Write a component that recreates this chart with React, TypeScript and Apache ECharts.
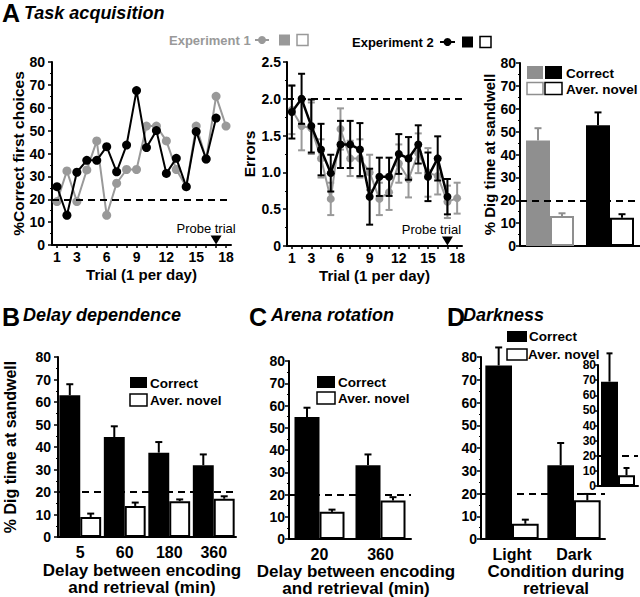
import React, { useEffect, useRef } from "react";
import * as echarts from "echarts";

// ---------- data ----------
const trials = ["1","2","3","4","5","6","7","8","9","10","11","12","13","14","15","16","17","18"];
const labelTrials = ["1","3","6","9","12","15","18"];
const probeTrial = "17";

// Panel A1: % correct first choices
const a1Exp1 = [19, 32.4, 19, 32.8, 45.5, 13, 27, 33, 33, 52, 52, 45.5, 33, 25.5, 52, 37.6, 65, 52];
const a1Exp2 = [25.5, 13, 31.8, 37, 37, 43, 32, 43.7, 67.5, 42.6, 50, 31.3, 37.9, 25.5, 49.6, 37.6, 55.5];

// Panel A2: errors
const a2Exp1 = [1.85, 1.63, 1.6, 1.19, 0.64, 1.59, 1.19, 1.19, 1.0, 0.64, 0.73, 1.12, 0.91, 1.26, 1.0, 0.95, 0.6, 0.65];
const a2Exp1Err = [0.33, 0.33, 0.35, 0.26, 0.22, 0.28, 0.24, 0.26, 0.24, 0.22, 0.24, 0.26, 0.25, 0.27, 0.33, 0.25, 0.22, 0.21];
const a2Exp2 = [1.82, 2.0, 1.63, 1.31, 0.99, 1.38, 1.38, 1.31, 0.67, 0.94, 0.94, 1.25, 1.19, 1.38, 0.94, 1.19, 0.67];
const a2Exp2Err = [0.36, 0.34, 0.36, 0.35, 0.25, 0.32, 0.32, 0.36, 0.38, 0.26, 0.26, 0.27, 0.29, 0.26, 0.33, 0.3, 0.24];

// Panel A3: dig time
const a3Groups = ["Experiment 1", "Experiment 2"];
const a3Correct = [46.1, 52.8];
const a3CorrectErr = [5.4, 5.6];
const a3Novel = [13.1, 12.4];
const a3NovelErr = [1.2, 1.5];

// Panel B: delay dependence
const bDelays = ["5", "60", "180", "360"];
const bCorrect = [63, 44.4, 37.5, 31.9];
const bCorrectErr = [4.9, 4.8, 4.7, 4.8];
const bNovel = [8.9, 13.8, 15.9, 17.0];
const bNovelErr = [1.5, 1.5, 0.8, 1.1];

// Panel C: arena rotation
const cDelays = ["20", "360"];
const cCorrect = [54.8, 33.2];
const cCorrectErr = [4.2, 4.8];
const cNovel = [12.2, 17.3];
const cNovelErr = [1.0, 1.5];

// Panel D: darkness
const dConditions = ["Light", "Dark"];
const dCorrect = [76.3, 32.4];
const dCorrectErr = [7.9, 9.8];
const dNovel = [6.7, 17.0];
const dNovelErr = [1.8, 2.8];

// Panel D inset
const insetGroups = ["Inset"];
const insetCorrect = [69];
const insetCorrectErr = [18.7];
const insetNovel = [7.1];
const insetNovelErr = [4.8];

const chancePct = 20;
const chanceErrors = 2.0;

// ---------- style ----------
const FONT = '"Liberation Sans", Arial, Helvetica, sans-serif';
const GRAY = "#999999";
const BAR_GRAY = "#8f8f8f";
const BLACK = "#000000";

function yAxisCfg(gridIndex: number, max: number, interval: number, o: any = {}) {
  return {
    type: "value",
    gridIndex,
    min: 0,
    max,
    interval,
    axisLine: { show: true, lineStyle: { color: BLACK, width: 2 } },
    axisTick: { show: true, length: o.tickLen ?? 4, lineStyle: { color: BLACK, width: 1.5 } },
    minorTick: { show: o.minor !== false, splitNumber: 2, length: 2, lineStyle: { color: BLACK, width: 1 } },
    splitLine: { show: false },
    axisLabel: {
      show: o.labels !== false,
      hideOverlap: false,
      color: BLACK,
      fontFamily: FONT,
      fontWeight: "bold",
      fontSize: o.fontSize ?? 14,
      margin: o.margin ?? 6,
      formatter: o.formatter,
    },
    name: o.name ?? "",
    nameLocation: "middle",
    nameRotate: 90,
    nameGap: o.nameGap ?? 30,
    nameMoveOverlap: false,
    nameTextStyle: { color: BLACK, fontFamily: FONT, fontWeight: "bold", fontSize: o.nameSize ?? 15.5 },
  };
}

function xCatCfg(gridIndex: number, data: string[], o: any = {}) {
  return {
    type: "category",
    gridIndex,
    data,
    boundaryGap: true,
    axisLine: { show: true, lineStyle: { color: BLACK, width: 2 } },
    axisTick: o.ticks
      ? { show: true, interval: 0, alignWithLabel: true, length: 3, lineStyle: { color: BLACK, width: 1.5 } }
      : { show: false },
    axisLabel: {
      show: o.labels !== false,
      color: BLACK,
      fontFamily: FONT,
      fontWeight: "bold",
      fontSize: o.fontSize ?? 14,
      margin: o.margin ?? 5,
      interval: o.labelInterval ?? 0,
    },
    name: o.name ?? "",
    nameLocation: "middle",
    nameGap: o.nameGap ?? 20,
    nameMoveOverlap: false,
    nameTextStyle: {
      color: BLACK,
      fontFamily: FONT,
      fontWeight: "bold",
      fontSize: o.nameSize ?? 15,
      lineHeight: o.nameLineHeight ?? 17,
      padding: o.namePadding ?? 0,
      verticalAlign: "top",
    },
  };
}

function errSeries(axis: number, vals: number[], errs: number[], o: any) {
  const slot = o.slot ?? 0;
  const nSlots = o.nSlots ?? 1;
  const gap = o.gap ?? 0;
  const colors = o.colors;
  const twoSided = !!o.twoSided;
  const cap = o.cap ?? 3.5;
  const lw = o.lw ?? 2;
  return {
    type: "custom",
    xAxisIndex: axis,
    yAxisIndex: axis,
    z: o.z ?? 5,
    silent: true,
    clip: false,
    data: vals.map((v, i) => [i, v, errs[i]]),
    encode: { x: 0, y: 1 },
    renderItem: (params: any, api: any) => {
      const i = api.value(0);
      const v = api.value(1);
      const e = api.value(2);
      const c = api.coord([i, v]);
      const t = api.coord([i, v + e]);
      const b = twoSided ? api.coord([i, v - e]) : c;
      const band = api.size([1, 0])[0];
      const bw = (band * (1 - gap)) / nSlots;
      const x = c[0] + (slot - (nSlots - 1) / 2) * bw;
      const color = Array.isArray(colors) ? colors[params.dataIndex] : colors;
      const style = { stroke: color, lineWidth: lw, fill: null };
      const children: any[] = [
        { type: "line", shape: { x1: x, y1: t[1], x2: x, y2: b[1] }, style },
        { type: "line", shape: { x1: x - cap, y1: t[1], x2: x + cap, y2: t[1] }, style },
      ];
      if (twoSided) children.push({ type: "line", shape: { x1: x - cap, y1: b[1], x2: x + cap, y2: b[1] }, style });
      return { type: "group", children };
    },
  };
}

function chanceLine(value: number) {
  return {
    silent: true,
    symbol: "none",
    label: { show: false },
    lineStyle: { color: BLACK, type: [7, 5], width: 2 },
    data: [{ yAxis: value }],
  };
}

function probeMark(offsetX: number) {
  return {
    silent: true,
    symbol: "triangle",
    symbolRotate: 180,
    symbolSize: [11, 9],
    symbolOffset: [0, -5],
    itemStyle: { color: BLACK },
    label: {
      show: true,
      formatter: "Probe trial",
      position: "top",
      distance: 1,
      offset: [offsetX, 0],
      color: BLACK,
      fontFamily: FONT,
      fontSize: 13,
    },
    data: [{ coord: [probeTrial, 0] }],
  };
}

function lineSeries(axis: number, data: number[], color: string, width: number, size: number, z: number, extra: any = {}) {
  return {
    type: "line",
    xAxisIndex: axis,
    yAxisIndex: axis,
    data,
    symbol: "circle",
    symbolSize: size,
    showSymbol: true,
    showAllSymbol: true,
    lineStyle: { color, width },
    itemStyle: { color },
    z,
    silent: true,
    ...extra,
  };
}

function barPair(axis: number, correct: any[], novel: any[], gap: string, withChance = true) {
  return [
    {
      type: "bar",
      name: "Correct",
      xAxisIndex: axis,
      yAxisIndex: axis,
      data: correct,
      barGap: "0%",
      barCategoryGap: gap,
      itemStyle: { color: BLACK },
      z: 3,
      clip: false,
      silent: true,
    },
    {
      type: "bar",
      name: "Aver. novel",
      xAxisIndex: axis,
      yAxisIndex: axis,
      data: novel,
      barGap: "0%",
      barCategoryGap: gap,
      itemStyle: { color: "#fff", borderColor: BLACK, borderWidth: 2 },
      z: 1,
      clip: false,
      silent: true,
      markLine: withChance ? chanceLine(chancePct) : undefined,
    },
  ];
}

const T = (x: number, y: number, text: string, font: string, fill = BLACK, align = "left") => ({
  type: "text",
  x,
  y,
  z: 50,
  silent: true,
  style: { text, font, fill, align, verticalAlign: "middle" },
});
const R = (x: number, y: number, w: number, h: number, fill: string, stroke?: string) => ({
  type: "rect",
  silent: true,
  shape: { x, y, width: w, height: h },
  style: { fill, stroke: stroke ?? null, lineWidth: stroke ? 1.5 : 0 },
});

const LETTER = `bold 25px ${FONT}`;
const TITLE = `italic bold 18px ${FONT}`;
const LEG = `bold 13.5px ${FONT}`;
const EXP = `bold 13px ${FONT}`;

export default function App() {
  const ref = useRef<HTMLDivElement>(null);
  useEffect(() => {
    document.body.style.margin = "0";
    const chart = echarts.init(ref.current!, null, { renderer: "svg" });

    const grids = [
      { left: 52, top: 62, width: 179, height: 183 }, // A1
      { left: 287, top: 62, width: 175, height: 184 }, // A2
      { left: 520, top: 63, width: 120, height: 183 }, // A3
      { left: 58, top: 357, width: 178, height: 180 }, // B
      { left: 289, top: 361, width: 122, height: 178 }, // C
      { left: 481, top: 357, width: 124, height: 182 }, // D
      { left: 598, top: 365, width: 40, height: 121 }, // inset
    ];

    const option: any = {
      animation: false,
      grid: grids.map((g) => ({ ...g, containLabel: false, outerBoundsMode: "none" })),
      xAxis: [
        xCatCfg(0, trials, {
          ticks: true,
          labelInterval: (i: number) => labelTrials.includes(trials[i]),
          name: "Trial (1 per day)",
          nameGap: 21,
        }),
        xCatCfg(1, trials, {
          ticks: true,
          labelInterval: (i: number) => labelTrials.includes(trials[i]),
          name: "Trial (1 per day)",
          nameGap: 21,
        }),
        xCatCfg(2, a3Groups, { labels: false }),
        xCatCfg(3, bDelays, {
          fontSize: 16,
          margin: 7,
          name: "Delay between encoding\nand retrieval (min)",
          nameSize: 17,
          nameGap: 25,
          namePadding: [0, 10, 0, 0],
        }),
        xCatCfg(4, cDelays, {
          fontSize: 16,
          margin: 7,
          name: "Delay between encoding\nand retrieval (min)",
          nameSize: 17,
          nameGap: 24,
          namePadding: [0, 0, 0, 12],
        }),
        xCatCfg(5, dConditions, {
          fontSize: 16,
          margin: 7,
          name: "Condition during\nretrieval",
          nameSize: 17,
          nameGap: 24,
          namePadding: [0, 0, 0, 26],
        }),
        xCatCfg(6, insetGroups, { labels: false }),
      ],
      yAxis: [
        yAxisCfg(0, 80, 10, { name: "%Correct first choices", nameGap: 26, margin: 7 }),
        yAxisCfg(1, 2.5, 0.5, {
          name: "Errors",
          nameGap: 30,
          margin: 6,
          formatter: (v: number) => (v === 0 ? "0" : v.toFixed(1)),
        }),
        yAxisCfg(2, 80, 10, { name: "% Dig time at sandwell", nameGap: 23, margin: 4, nameSize: 15 }),
        yAxisCfg(3, 80, 10, { name: "% Dig time at sandwell", nameGap: 40, margin: 7, nameSize: 16 }),
        yAxisCfg(4, 80, 10, { margin: 4 }),
        yAxisCfg(5, 80, 10, { margin: 4 }),
        yAxisCfg(6, 80, 10, { margin: 2, fontSize: 12, minor: false, tickLen: 3 }),
      ],
      series: [
        // A1
        lineSeries(0, a1Exp1, GRAY, 2, 9, 2, { markLine: chanceLine(chancePct) }),
        lineSeries(0, a1Exp2, BLACK, 2, 9, 3, { markPoint: probeMark(-10) }),
        // A2
        errSeries(1, a2Exp1, a2Exp1Err, { colors: GRAY, twoSided: true, z: 1 }),
        lineSeries(1, a2Exp1, GRAY, 2, 8, 2, { markLine: chanceLine(chanceErrors) }),
        errSeries(1, a2Exp2, a2Exp2Err, { colors: BLACK, twoSided: true, z: 3 }),
        lineSeries(1, a2Exp2, BLACK, 2.5, 8, 4, { markPoint: probeMark(-16) }),
        // A3
        ...barPair(
          2,
          a3Correct.map((v, i) => ({ value: v, itemStyle: { color: i === 0 ? BAR_GRAY : BLACK } })),
          a3Novel.map((v, i) => ({
            value: v,
            itemStyle: { color: "#fff", borderColor: i === 0 ? BAR_GRAY : BLACK, borderWidth: 2 },
          })),
          "20%"
        ),
        errSeries(2, a3Correct, a3CorrectErr, { slot: 0, nSlots: 2, gap: 0.2, colors: [BAR_GRAY, BLACK] }),
        errSeries(2, a3Novel, a3NovelErr, { slot: 1, nSlots: 2, gap: 0.2, colors: [BAR_GRAY, BLACK] }),
        // B
        ...barPair(3, bCorrect, bNovel, "6%"),
        errSeries(3, bCorrect, bCorrectErr, { slot: 0, nSlots: 2, gap: 0.06, colors: BLACK }),
        errSeries(3, bNovel, bNovelErr, { slot: 1, nSlots: 2, gap: 0.06, colors: BLACK }),
        // C
        ...barPair(4, cCorrect, cNovel, "18%"),
        errSeries(4, cCorrect, cCorrectErr, { slot: 0, nSlots: 2, gap: 0.18, colors: BLACK }),
        errSeries(4, cNovel, cNovelErr, { slot: 1, nSlots: 2, gap: 0.18, colors: BLACK }),
        // D
        ...barPair(5, dCorrect, dNovel, "14%"),
        errSeries(5, dCorrect, dCorrectErr, { slot: 0, nSlots: 2, gap: 0.14, colors: BLACK }),
        errSeries(5, dNovel, dNovelErr, { slot: 1, nSlots: 2, gap: 0.14, colors: BLACK }),
        // Inset
        ...barPair(6, insetCorrect, insetNovel, "15%"),
        errSeries(6, insetCorrect, insetCorrectErr, { slot: 0, nSlots: 2, gap: 0.15, colors: BLACK, cap: 3 }),
        errSeries(6, insetNovel, insetNovelErr, { slot: 1, nSlots: 2, gap: 0.15, colors: BLACK, cap: 3 }),
      ],
      graphic: [
        // titles
        T(2, 13, "A", LETTER),
        T(24, 13, "Task acquisition", TITLE),
        T(2, 317, "B", LETTER),
        T(23, 315, "Delay dependence", TITLE),
        T(249, 317, "C", LETTER),
        T(271, 315, "Arena rotation", TITLE),
        T(447, 317, "D", LETTER),
        T(463, 315, "Darkness", TITLE),
        // experiment legends
        T(169, 40, "Experiment 1", EXP, GRAY),
        { type: "line", silent: true, shape: { x1: 255, y1: 40, x2: 269, y2: 40 }, style: { stroke: GRAY, lineWidth: 2 } },
        { type: "circle", silent: true, shape: { cx: 262, cy: 40, r: 4 }, style: { fill: GRAY } },
        R(279, 34.5, 11, 11, GRAY),
        R(297, 34.5, 11, 11, "#fff", GRAY),
        T(352, 42, "Experiment 2", EXP, BLACK),
        { type: "line", silent: true, shape: { x1: 440, y1: 42, x2: 455, y2: 42 }, style: { stroke: BLACK, lineWidth: 2 } },
        { type: "circle", silent: true, shape: { cx: 447.5, cy: 42, r: 4 }, style: { fill: BLACK } },
        R(462, 36.5, 11, 11, BLACK),
        R(480, 36.5, 11, 11, "#fff", BLACK),
        // A3 legend
        R(527, 66, 16, 13, BAR_GRAY),
        R(545, 66, 17, 13, BLACK),
        T(566, 73, "Correct", LEG),
        R(527, 82.5, 16, 12, "#fff", BAR_GRAY),
        R(545, 82.5, 17, 12, "#fff", BLACK),
        T(566, 89, "Aver. novel", LEG),
        // B legend
        R(130, 377, 17, 11, BLACK),
        T(150, 383, "Correct", LEG),
        R(130, 394, 17, 12, "#fff", BLACK),
        T(150, 400, "Aver. novel", LEG),
        // C legend
        R(317, 376, 18, 12, BLACK),
        T(338, 382, "Correct", LEG),
        R(317, 392, 18, 12, "#fff", BLACK),
        T(338, 398, "Aver. novel", LEG),
        // D legend
        R(507, 331, 20, 11, BLACK),
        T(529, 336, "Correct", LEG),
        R(507, 349, 20, 11, "#fff", BLACK),
        T(528, 354, "Aver. novel", LEG),
      ],
    };
    chart.setOption(option);
    return () => chart.dispose();
  }, []);
  return (
    <div
      ref={ref}
      style={{ position: "absolute", left: 0, top: 0, width: 640, height: 597, background: "#fff" }}
    />
  );
}
